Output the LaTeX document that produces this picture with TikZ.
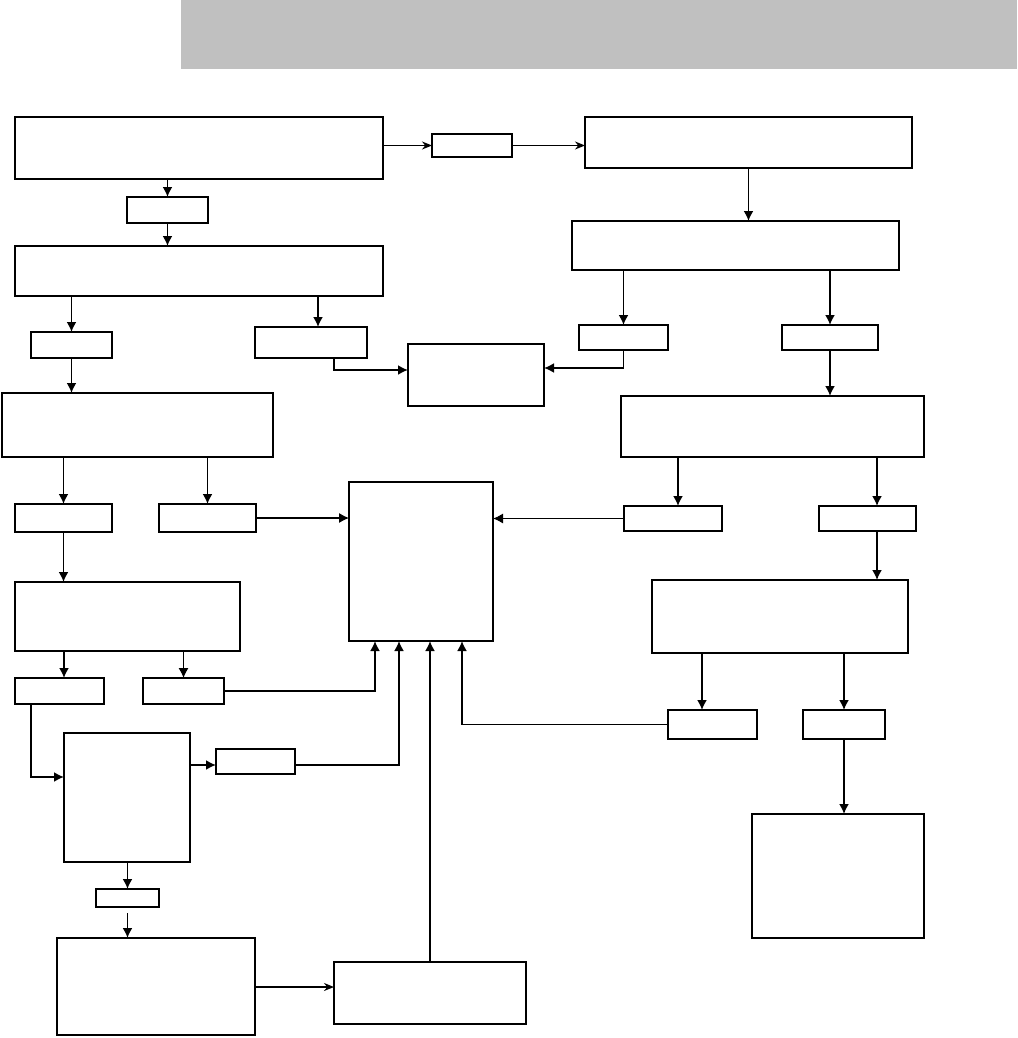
\documentclass[tikz,border=0pt]{standalone}
\usetikzlibrary{arrows.meta,calc}
\definecolor{bannergray}{HTML}{C0C0C0}
\newcommand\bx[5]{\node[box, minimum width={(#4-#2)*1pt}, minimum height={(#5-#3)*1pt}] (#1) at (#2,#3) {};}
\begin{document}
\begin{tikzpicture}[x=1pt,y=-1pt,
  box/.style={draw, line width=1.8pt, inner sep=0pt, outer sep=0pt, anchor=north west},
  arr/.style={line width=1.8pt, -{Latex[length=10pt,width=10pt]}},
  starr/.style={line width=1.8pt, -{Stealth[length=10pt,width=8pt]}},
  thinarr/.style={line width=1.1pt, -{Latex[length=10pt,width=10pt]}},
  ln/.style={line width=1.8pt}]
\useasboundingbox (0,0) rectangle (1017,1038);
\fill[bannergray] (181,0) rectangle (1017,69);
% boxes
\bx{A}{15}{117}{383}{179}
\bx{s1}{127}{197}{208}{223}
\bx{B}{15}{246}{383}{296}
\bx{s0}{432}{134}{512}{157}
\bx{D}{585}{117}{912}{168}
\bx{E}{572}{221}{899}{270}
\bx{s4}{579}{325}{668}{350}
\bx{s5}{782}{325}{878}{350}
\bx{s2}{31}{332}{112}{358}
\bx{s3}{255}{327}{367}{358}
\bx{C}{408}{344}{544}{406}
\bx{I}{2}{393}{273}{457}
\bx{F}{621}{396}{924}{457}
\bx{s10}{15}{504}{112}{532}
\bx{s11}{159}{504}{256}{532}
\bx{M}{349}{482}{493}{641}
\bx{s6}{624}{506}{722}{531}
\bx{s7}{819}{506}{916}{531}
\bx{J}{15}{582}{240}{651}
\bx{G}{652}{580}{908}{653}
\bx{s12}{15}{678}{104}{704}
\bx{s13}{143}{678}{224}{704}
\bx{s8}{668}{710}{757}{739}
\bx{s9}{803}{710}{885}{739}
\bx{K}{64}{733}{190}{862}
\bx{s14}{216}{749}{295}{774}
\bx{H}{752}{814}{924}{938}
\bx{s15}{96}{889}{159}{907}
\bx{L}{57}{938}{255}{1035}
\bx{N}{334}{962}{526}{1024}
% connectors
\draw[starr] (A.east |- s0.west) -- (s0.west);
\draw[starr] (s0.east) -- (D.west |- s0.east);
\draw[arr] (A.south -| s1.north) -- (s1.north);
\draw[arr] (s1.south) -- (B.north -| s1.south);
\draw[arr] (B.south -| s2.north) -- (s2.north);
\draw[arr] (B.south -| 318,0) -- (s3.north -| 318,0);
\draw[arr] (s2.south) -- (I.north -| s2.south);
\draw[arr] (s3.south -| 334,0) |- (C.west |- 0,370);
\draw[arr] (s4.south) |- (C.east |- 0,368);
\draw[arr] (D.south) -- (E.north -| D.south);
\draw[arr] (E.south -| s4.north) -- (s4.north);
\draw[arr] (E.south -| s5.north) -- (s5.north);
\draw[arr] (s5.south) -- (F.north -| s5.south);
\draw[arr] (I.south -| s10.north) -- (s10.north);
\draw[arr] (I.south -| s11.north) -- (s11.north);
\draw[thinarr] (s11.east) -- (M.west |- s11.east);
\draw[thinarr] (s6.west) -- (M.east |- s6.west);
\draw[arr] (F.south -| 678,0) -- (s6.north -| 678,0);
\draw[arr] (F.south -| 877,0) -- (s7.north -| 877,0);
\draw[arr] (s7.south -| 877,0) -- (G.north -| 877,0);
\draw[arr] (s10.south) -- (J.north -| s10.south);
\draw[arr] (G.south -| 702,0) -- (s8.north -| 702,0);
\draw[arr] (G.south -| s9.north) -- (s9.north);
\draw[arr] (s9.south) -- (H.north -| s9.south);
\draw[arr] (s8.west) -| (M.south -| 462,0);
\draw[arr] (J.south -| 64,0) -- (s12.north -| 64,0);
\draw[thinarr] (J.south -| s13.north) -- (s13.north);
\draw[arr] (s13.east) -| (M.south -| 375,0);
\draw[arr] (s12.south -| 31,0) |- (K.west |- 0,777);
\draw[arr] (K.east |- 0,765) -- (s14.west |- 0,765);
\draw[arr] (s14.east |- 0,765) -| (M.south -| 399,0);
\draw[arr] (K.south -| s15.north) -- (s15.north);
\draw[arr] ($(s15.south)+(0,6)$) -- (L.north -| s15.south);
\draw[starr] (L.east |- 0,987) -- (N.west |- 0,987);
\draw[arr] (N.north -| 430,0) -- (M.south -| 430,0);
\end{tikzpicture}
\end{document}
